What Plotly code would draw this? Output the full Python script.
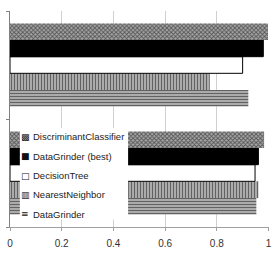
import plotly.graph_objects as go

categories = ["Set 1", "Set 2"]  # bottom, top
series_names = ["DataGrinder", "NearestNeighbor", "DecisionTree", "DataGrinder (best)", "DiscriminantClassifier"]
values = {
    "DataGrinder": [0.953, 0.922],
    "NearestNeighbor": [0.961, 0.773],
    "DecisionTree": [0.948, 0.90],
    "DataGrinder (best)": [0.961, 0.98],
    "DiscriminantClassifier": [0.983, 0.998],
}
legend_symbols = {
    "DiscriminantClassifier": "▩",
    "DataGrinder (best)": "■",
    "DecisionTree": "□",
    "NearestNeighbor": "▥",
    "DataGrinder": "≡",
}
tick_vals = [0, 0.2, 0.4, 0.6, 0.8, 1]
tick_text = ["0", "0.2", "0.4", "0.6", "0.8", "1"]

styles = {
    "DataGrinder": dict(color="white", pattern=dict(shape="-", size=3, solidity=0.5, fgcolor="black", bgcolor="#c4c4c4"), line=dict(width=0)),
    "NearestNeighbor": dict(color="white", pattern=dict(shape="|", size=3, solidity=0.5, fgcolor="black", bgcolor="#c4c4c4"), line=dict(width=0)),
    "DecisionTree": dict(color="white", line=dict(color="black", width=1)),
    "DataGrinder (best)": dict(color="black", line=dict(color="black", width=1)),
    "DiscriminantClassifier": dict(color="white", pattern=dict(shape="x", size=3, solidity=0.5, fgcolor="black", bgcolor="#a8a8a8"), line=dict(width=0)),
}

fig = go.Figure()
for name in series_names:
    fig.add_trace(go.Bar(
        y=categories, x=values[name], name=name, orientation="h",
        marker=styles[name], showlegend=False,
    ))

# custom compact legend (white box over lower-left, like the original)
fig.add_shape(type="rect", xref="paper", yref="paper", x0=0.038, x1=0.456, y0=0.035, y1=0.458,
              fillcolor="white", line=dict(width=0), layer="above")
legend_order = list(reversed(series_names))
for i, name in enumerate(legend_order):
    yy = 0.4167 - i * 0.0895
    fig.add_annotation(xref="paper", yref="paper", x=0.058, y=yy, text=legend_symbols[name],
                       showarrow=False, xanchor="center", yanchor="middle",
                       font=dict(family="DejaVu Sans", size=9, color="#111"))
    fig.add_annotation(xref="paper", yref="paper", x=0.083, y=yy, text=name,
                       showarrow=False, xanchor="left", yanchor="middle",
                       font=dict(family="Liberation Sans, Arial", size=9.5, color="#222"))

fig.update_layout(
    width=276, height=253,
    margin=dict(l=10, r=7, t=11, b=26),
    paper_bgcolor="white", plot_bgcolor="white",
    barmode="group", bargap=0.23, bargroupgap=0,
    font=dict(family="Liberation Sans, Arial", size=10, color="#333"),
    showlegend=False,
)
fig.update_xaxes(
    range=[0, 1.002], tickvals=tick_vals, ticktext=tick_text,
    showgrid=True, gridcolor="#d0d0d0", gridwidth=1,
    showline=True, linecolor="#a0a0a0", ticks="outside", ticklen=3, tickcolor="#a0a0a0",
    ticklabelstandoff=4,
    zeroline=False, tickfont=dict(size=10, color="#333"), automargin=False,
)
fig.update_yaxes(
    showticklabels=False, showline=True, linecolor="#808080",
    ticks="outside", ticklen=3, tickcolor="#808080", tickson="boundaries",
    showgrid=False, automargin=False,
)
fig.write_html("out.html", config={"displayModeBar": False},
               post_script="document.body.style.margin='0';document.body.style.overflow='hidden';")
